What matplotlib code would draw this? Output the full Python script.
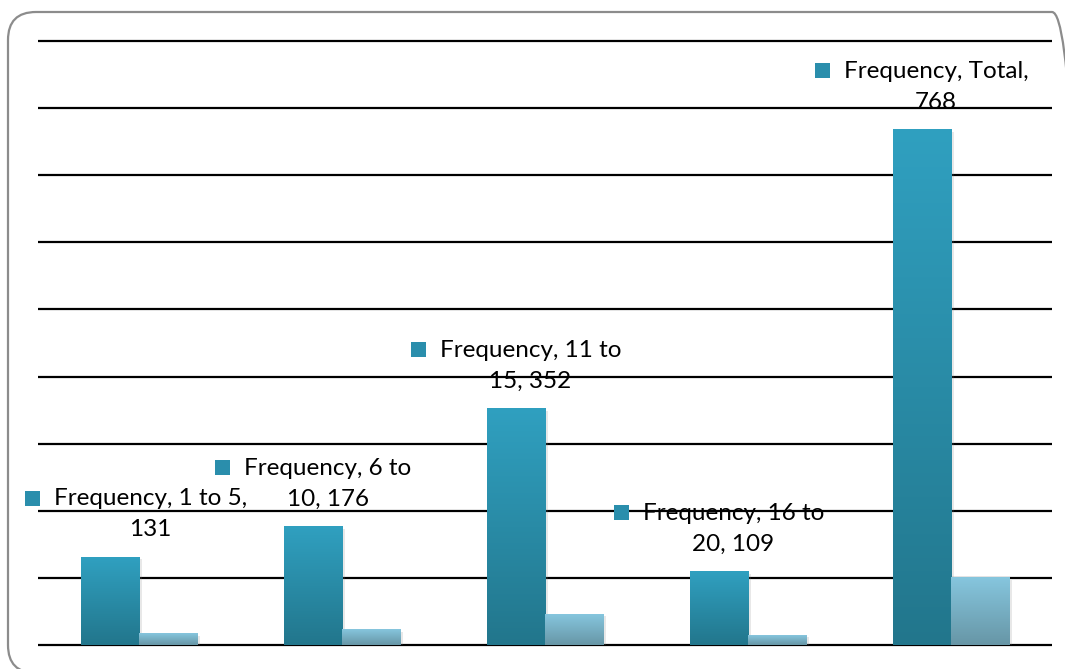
import numpy as np
import matplotlib.pyplot as plt
import matplotlib.transforms as mtransforms
from matplotlib.patches import FancyBboxPatch, Rectangle
from matplotlib.colors import LinearSegmentedColormap

plt.rcParams["font.family"] = ["Lato", "DejaVu Sans"]

# data
categories = ["1 to 5", "6 to 10", "11 to 15", "16 to 20", "Total"]
frequency = [131, 176, 352, 109, 768]
percent = [17.1, 22.9, 45.8, 14.2, 100.0]
labels = ["Frequency, 1 to 5,\n131",
          "Frequency, 6 to\n10, 176",
          "Frequency, 11 to\n15, 352",
          "Frequency, 16 to\n20, 109",
          "Frequency, Total,\n768"]

W, H = 1065, 669
fig = plt.figure(figsize=(W / 100, H / 100), dpi=100)
ax = fig.add_axes([38 / W, 24 / H, (1052 - 38) / W, (645 - 41) / H])

x = np.arange(len(categories))
bw = 0.286

shadow_tr = mtransforms.offset_copy(ax.transData, fig, x=3, y=-2, units="dots")


def gradient_bar(x0, h, c_top, c_bot):
    sh = Rectangle((x0, 0), bw, h, facecolor="#808080", alpha=0.18,
                   edgecolor="none", zorder=2, transform=shadow_tr)
    ax.add_patch(sh)
    cmap = LinearSegmentedColormap.from_list("g", [c_bot, c_top])
    ax.imshow(np.linspace(0, 1, 256).reshape(-1, 1), cmap=cmap,
              extent=[x0, x0 + bw, 0, h], origin="lower", aspect="auto",
              zorder=3, interpolation="bilinear")


for i in range(len(categories)):
    gradient_bar(x[i] - bw, frequency[i], "#30a0c0", "#22768c")
    gradient_bar(x[i], percent[i], "#86c6de", "#6796a6")

ax.set_xlim(-0.5, len(categories) - 0.5)
ax.set_ylim(0, 900)
ticks = np.arange(0, 901, 100)
ax.hlines(ticks, -0.5, len(categories) - 0.5, color="black", lw=1.6,
          zorder=1, clip_on=False)
ax.set_xticks([])
ax.set_yticks([])
for s in ax.spines.values():
    s.set_visible(False)

# data labels with legend key square
fig.canvas.draw()
r = fig.canvas.get_renderer()
sq, gap = 15, 14
for i in range(len(categories)):
    cx, ytop = ax.transData.transform((x[i] - bw / 2, frequency[i]))
    t = ax.text(0, 0, labels[i], fontsize=17.5, ha="center", va="center",
                multialignment="center", linespacing=1.58, color="black",
                transform=mtransforms.IdentityTransform(), zorder=5)
    tw = t.get_window_extent(r).width
    block = sq + gap + tw
    left = max(cx - block / 2, 25)
    t.set_position((left + sq + gap + tw / 2, ytop + 43))
    ax.add_patch(Rectangle((left, ytop + 59 - sq / 2), sq, sq,
                           facecolor="#2a8eac", edgecolor="none",
                           transform=mtransforms.IdentityTransform(),
                           zorder=5, clip_on=False))

border = FancyBboxPatch((8, -4), 1072, H - 12 + 4,
                        boxstyle="round,pad=0,rounding_size=28",
                        facecolor="none", edgecolor="#8c8c8c", lw=1.6,
                        transform=mtransforms.IdentityTransform())
fig.add_artist(border)

fig.savefig("out.png", dpi=100)
